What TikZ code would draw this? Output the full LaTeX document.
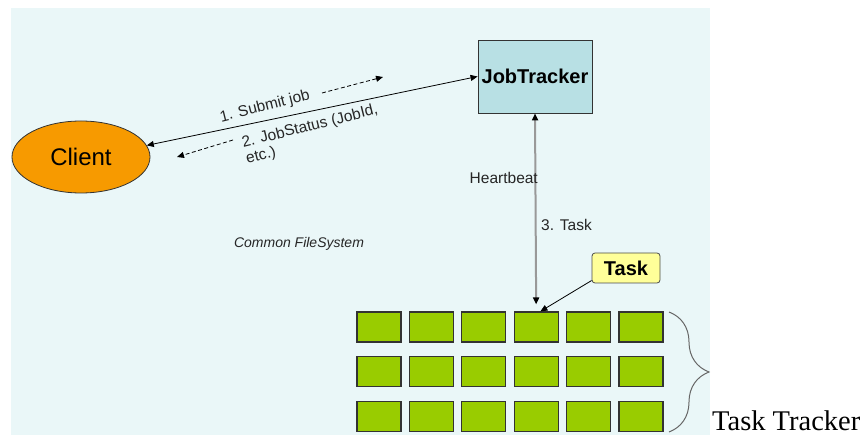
\documentclass[tikz,border=0pt]{standalone}
\usepackage{fontspec}
\setmainfont{Liberation Sans}
\newfontfamily\timesfont{Liberation Serif}
\usetikzlibrary{arrows.meta,shapes.geometric,decorations.pathreplacing}
\definecolor{bgcyan}{HTML}{EAF7F8}
\definecolor{jtblue}{HTML}{B8E0E4}
\definecolor{clorange}{HTML}{F79A00}
\definecolor{ttgreen}{HTML}{99CC00}
\definecolor{tkyellow}{HTML}{FFFF99}
\tikzset{
  tip/.style={-{Triangle[length=7pt,width=6pt]}},
  jtbox/.style={rectangle, draw=black!80, fill=jtblue, line width=0.9pt, minimum width=114pt, minimum height=73pt, inner sep=0pt, font=\fontsize{20}{24}\selectfont\bfseries},
  clnode/.style={ellipse, draw=black!80, fill=clorange, line width=0.8pt, minimum width=138pt, minimum height=72pt, inner sep=0pt, font=\fontsize{24}{28}\selectfont},
  ttbox/.style={rectangle, draw=black!80, fill=ttgreen, line width=1.2pt, minimum width=44pt, minimum height=30pt, inner sep=0pt},
  tkbox/.style={rectangle, rounded corners=3pt, draw=black!70, fill=tkyellow, line width=0.8pt, minimum width=68pt, minimum height=30pt, inner sep=0pt, font=\fontsize{20}{24}\selectfont\bfseries},
  lbl/.style={inner sep=0pt, text=black!85, font=\fontsize{15.5}{17}\selectfont},
  dsh/.style={tip, dash pattern=on 4pt off 2.5pt, line width=0.8pt}
}
\begin{document}
\begin{tikzpicture}[x=1pt,y=-1pt]
  \useasboundingbox (0,0) rectangle (867,435);
  \fill[bgcyan] (11,8) rectangle (710,435);
  \node at (535,76.5) [jtbox] (jt) {JobTracker};
  \node at (81,157) [clnode] (client) {Client};
  \node at (626,268) [tkbox] (task) {Task};
  \foreach \r in {1,2,3}
    \foreach \c in {1,...,6}
      \node at ({379+(\c-1)*52.4},{327+(\r-1)*44.8}) [ttbox] (t-\r-\c) {};
  \draw[{Triangle[length=7pt,width=6pt]}-{Triangle[length=7pt,width=6pt]}, line width=0.8pt] (client.10) -- (jt.west);
  \coordinate (s1) at (322,93);
  \coordinate (s2) at (383,77);
  \coordinate (r1) at (233,140);
  \coordinate (r2) at (177,157);
  \draw[dsh] (s1) -- (s2);
  \draw[dsh] (r1) -- (r2);
  \node at (265,107) [lbl, rotate=14] (submit) {1. Submit job};
  \node at (312,135) [lbl, rotate=14, align=left] (status) {2. JobStatus (JobId,\\etc.)};
  \draw[{Triangle[length=7pt,width=6pt,black]}-{Triangle[length=7pt,width=6pt,black]}, draw=black!40, line width=2pt, shorten >=7pt] (jt.south) -- (t-1-4.north);
  \node at (538,178) [lbl, anchor=east] (hb) {Heartbeat};
  \node at (541,225) [lbl, anchor=west] (tk3) {3. Task};
  \draw[tip, line width=0.8pt] (task.200) -- (t-1-4.75);
  \node at (299,244) [lbl, font=\fontsize{14}{16}\selectfont\itshape] (cfs) {Common FileSystem};
  \draw[black!60, line width=1pt, decorate, decoration={brace, amplitude=40pt}] (669,312) -- (669,432);
  \node at (712,430) [anchor=base west, inner sep=0pt, font=\timesfont\fontsize{28.5}{30}\selectfont] (tt) {Task Tracker};
\end{tikzpicture}
\end{document}
